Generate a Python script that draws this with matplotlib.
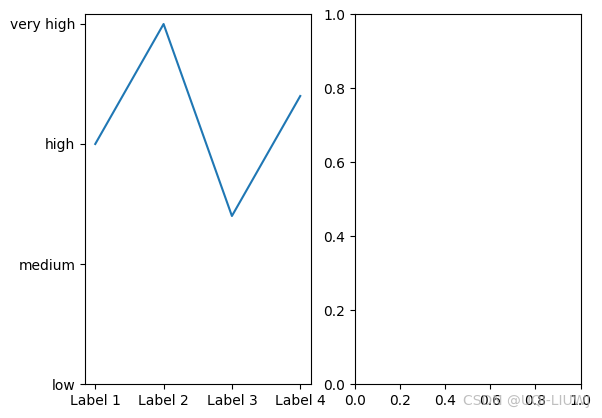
import matplotlib.pyplot as plt

labels = ['Label 1', 'Label 2', 'Label 3', 'Label 4']
values = [2.0, 3.0, 1.4, 2.4]
level_ticks = [0, 1, 2, 3]
level_names = ['low', 'medium', 'high', 'very high']

fig = plt.figure(figsize=(6.02, 4.18), dpi=100)
ax1 = fig.add_axes([85 / 602, 1 - 384 / 418, 225.5 / 602, 369.6 / 418])
ax2 = fig.add_axes([355 / 602, 1 - 384 / 418, 225.5 / 602, 369.6 / 418])

ax1.plot(labels, values)
ax1.set_yticks(level_ticks)
ax1.set_yticklabels(level_names)
ax1.set_ylim(bottom=0)

fig.text(590 / 602, 1 - 401 / 418, 'CSDN @UQI-LIUWJ', color='#b0b0b0',
         fontsize=10, ha='right', va='center', alpha=0.8)

fig.savefig('out.png', dpi=100)
